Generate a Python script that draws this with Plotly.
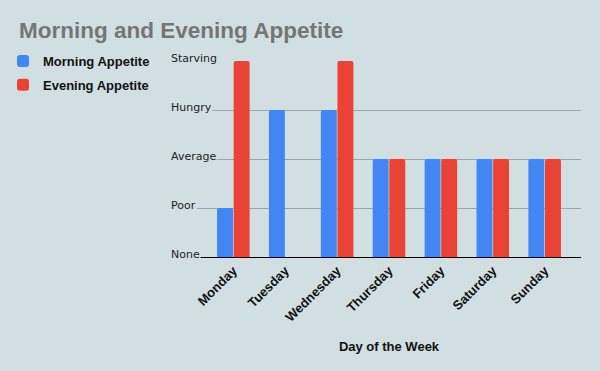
import plotly.graph_objects as go

days = ["Monday", "Tuesday", "Wednesday", "Thursday", "Friday", "Saturday", "Sunday"]
morning = [1, 3, 3, 2, 2, 2, 2]
evening = [4, 0, 4, 2, 2, 2, 2]
level_vals = [0, 1, 2, 3, 4]
level_text = ["None", "Poor", "Average", "Hungry", "Starving"]

BG = "#d1dfe2"
FONT = "Liberation Sans, Arial, sans-serif"
ML, MR = 197, 19
PW = 600 - ML - MR

fig = go.Figure()
fig.add_trace(go.Bar(name="<b>Morning Appetite</b>", x=days, y=morning, marker_color="#4285f4",
                     marker_line_width=0, marker_cornerradius=2, legendgroup="a"))
fig.add_trace(go.Bar(name="<b>Evening Appetite</b>", x=days, y=evening, marker_color="#ea4335",
                     marker_line_width=0, marker_cornerradius=2, legendgroup="b"))

for v, t in zip(level_vals, level_text):
    fig.add_annotation(x=(170 - ML) / PW, xref="paper", y=v, yref="y", text=t,
                       showarrow=False, xanchor="left", yanchor="middle", yshift=3,
                       font=dict(family="DejaVu Sans, sans-serif", size=11, color="#222222"),
                       bgcolor=BG, borderpad=0)

fig.update_layout(
    width=600, height=371,
    paper_bgcolor=BG, plot_bgcolor=BG,
    margin=dict(l=ML, r=MR, t=61, b=114),
    barmode="group", bargap=0.36, bargroupgap=0.04,
    title=dict(text="<b>Morning and Evening Appetite</b>", x=19/600, xanchor="left",
               y=1 - 30/371, yanchor="middle",
               font=dict(family=FONT, size=22.5, color="#757575")),
    legend=dict(xref="container", yref="container", x=3/600, y=1 - 46/371,
                xanchor="left", yanchor="top", bgcolor="rgba(0,0,0,0)",
                font=dict(family=FONT, size=13, color="#111111"), tracegroupgap=4,
                itemwidth=30),
    showlegend=True,
    font=dict(family=FONT),
    xaxis=dict(range=[-0.7, 6.7], tickangle=-45, showgrid=False, showline=True,
               linecolor="#000000", linewidth=1, ticks="",
               tickfont=dict(family=FONT, size=13, color="#111111"),
               ticktext=["<b>" + d + "</b>" for d in days], tickvals=days,
               title=dict(text="<b>Day of the Week</b>", standoff=18,
                          font=dict(family=FONT, size=13, color="#111111"))),
    yaxis=dict(range=[0, 4], tickvals=level_vals, showticklabels=False, showgrid=True,
               gridcolor="#9aa5a7", gridwidth=1, zeroline=False, showline=False),
)

fig.write_html("out.html", config={"displayModeBar": False},
               post_script="document.body.style.margin='0';document.body.style.overflow='hidden';")
